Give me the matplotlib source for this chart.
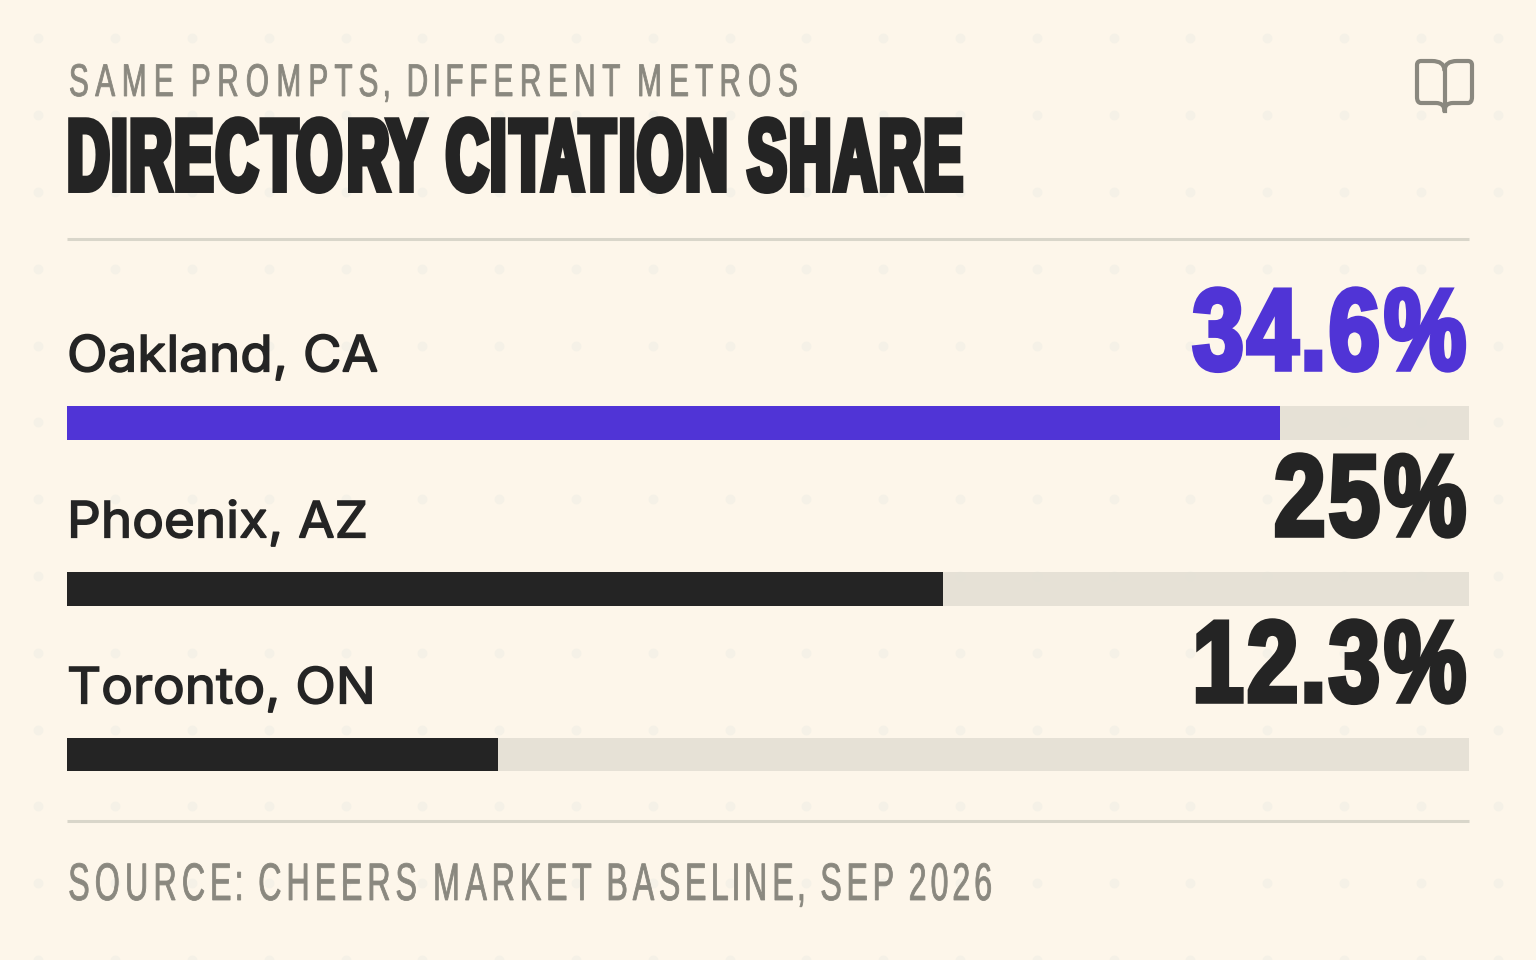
import matplotlib
matplotlib.use("Agg")
import matplotlib.pyplot as plt
import numpy as np
from matplotlib.patches import PathPatch
from matplotlib.path import Path
import matplotlib.patheffects as pe

metros = ["Oakland, CA", "Phoenix, AZ", "Toronto, ON"]
shares = [34.6, 25, 12.3]
share_labels = ["34.6%", "25%", "12.3%"]
bar_colors = ["#5034d6", "#242424", "#242424"]
axis_max = 40

BG = "#fdf6ea"
TRACK = "#e5e1d6"
INK = "#242424"
GREY = "#8a887f"
RULE = "#d9d6ca"
DISPLAY = "Liberation Sans"


class Squeeze(pe.AbstractPathEffect):
    """Narrow the glyphs of a text (no condensed font installed), fatten with a stroke."""

    def __init__(self, sx=1.0, glyph=1.0, stroke=0.0, right=False):
        super().__init__()
        self.sx, self.glyph, self.stroke, self.right = sx, glyph, stroke, right

    def draw_path(self, renderer, gc, tpath, affine, rgbFace=None):
        verts = np.array(tpath.vertices, dtype=float)
        codes = tpath.codes
        # group contours into glyphs, narrow each around its centre to get tracking
        if self.glyph != 1.0:
            starts = list(np.flatnonzero(codes == Path.MOVETO)) + [len(verts)]
            spans = sorted((verts[a:b, 0].min(), verts[a:b, 0].max(), a, b)
                           for a, b in zip(starts[:-1], starts[1:]))
            groups = []
            for lo, hi, a, b in spans:
                if groups and lo < groups[-1][1]:
                    groups[-1][1] = max(hi, groups[-1][1])
                    groups[-1][2].append((a, b))
                else:
                    groups.append([lo, hi, [(a, b)]])
            for lo, hi, parts in groups:
                mid = (lo + hi) / 2
                for a, b in parts:
                    verts[a:b, 0] = mid + (verts[a:b, 0] - mid) * self.glyph
        if self.right:
            xmax = verts[:, 0].max()
            verts[:, 0] = xmax - (xmax - verts[:, 0]) * self.sx
        else:
            verts[:, 0] *= self.sx
        gc1 = renderer.new_gc()
        gc1.copy_properties(gc)
        gc1.set_linewidth(self.stroke)
        gc1.set_joinstyle("miter")
        gc1.set_foreground(rgbFace)
        renderer.draw_path(gc1, Path(verts, codes), affine, rgbFace)
        gc1.restore()


fig = plt.figure(figsize=(15.36, 9.6), dpi=100, facecolor=BG)

# full page overlay in pixel coordinates, y going down
page = fig.add_axes([0, 0, 1, 1])
page.set_xlim(0, 1536)
page.set_ylim(960, 0)
page.axis("off")

# background dots
dots = 38.4 + 76.8 * np.arange(20)
dx, dy = np.meshgrid(dots, dots[:13])
page.scatter(dx.ravel(), dy.ravel(), s=50, color="#f5f1e7", linewidths=0, zorder=1)

page.text(66, 96, "SAME PROMPTS, DIFFERENT METROS", family=DISPLAY, fontsize=33,
          color=GREY, va="baseline", zorder=3,
          path_effects=[Squeeze(sx=0.855, glyph=0.76, stroke=0.6)])
page.text(66, 190, "DIRECTORY CITATION SHARE", family=DISPLAY, weight="bold", fontsize=73,
          color=INK, va="baseline", zorder=3,
          path_effects=[Squeeze(sx=0.613, glyph=0.94, stroke=4.3)])
page.plot([67, 1469], [239, 239], color=RULE, lw=2.2, solid_capstyle="butt", zorder=2)
page.plot([67, 1469], [821, 821], color=RULE, lw=2.2, solid_capstyle="butt", zorder=2)
page.text(66, 900, "SOURCE: CHEERS MARKET BASELINE, SEP 2026", family=DISPLAY, fontsize=38,
          color=GREY, va="baseline", zorder=3,
          path_effects=[Squeeze(sx=0.744, glyph=0.82, stroke=0.6)])

# book icon
M, L, C = Path.MOVETO, Path.LINETO, Path.CURVE3
left_page = [(1444.5, 70), (1444, 61), (1432, 61), (1421, 61), (1417, 61), (1417, 65),
             (1417, 97), (1417, 103), (1421, 103), (1436, 103), (1444.5, 103), (1444.5, 111)]
left_codes = [M, C, C, L, C, C, L, C, C, L, C, C]
right_page = [(2 * 1444.5 - x, y) for x, y in left_page]
for pts in (left_page, right_page):
    page.add_patch(PathPatch(Path(pts, left_codes), fill=False, edgecolor=GREY, lw=3,
                             capstyle="round", joinstyle="round", zorder=3))
page.plot([1444.5, 1444.5], [70, 111], color=GREY, lw=3, zorder=3)

# bars live in their own axes: 0 to axis_max across the track width
ax = fig.add_axes([67 / 1536, 1 - 771.5 / 960, 1402 / 1536, (771.5 - 406) / 960])
ax.patch.set_alpha(0)
ax.set_xlim(0, axis_max)
bar_h = 33.5 / 166
ax.set_ylim(2 + bar_h / 2, -bar_h / 2)
ax.axis("off")

y = np.arange(len(metros))
ax.barh(y, [axis_max] * len(metros), height=bar_h, color=TRACK, linewidth=0, alpha=0.96)
ax.barh(y, shares, height=bar_h, color=bar_colors, linewidth=0)

for i, (metro, label, col) in enumerate(zip(metros, share_labels, bar_colors)):
    ax.annotate(metro, xy=(0, i), xytext=(0, 37), textcoords="offset points",
                family="Inter", fontsize=36, color=INK,
                va="baseline", ha="left", annotation_clip=False,
                path_effects=[Squeeze(sx=1.06, stroke=1.1)])
    ax.annotate(label, xy=(axis_max, i), xytext=(0.5, 38.5), textcoords="offset points",
                family=DISPLAY, weight="bold", fontsize=83, color=col,
                va="baseline", ha="right", annotation_clip=False,
                path_effects=[Squeeze(sx=0.85, glyph=0.94, stroke=3.6, right=True)])

fig.savefig("out.png", dpi=100, facecolor=BG)
